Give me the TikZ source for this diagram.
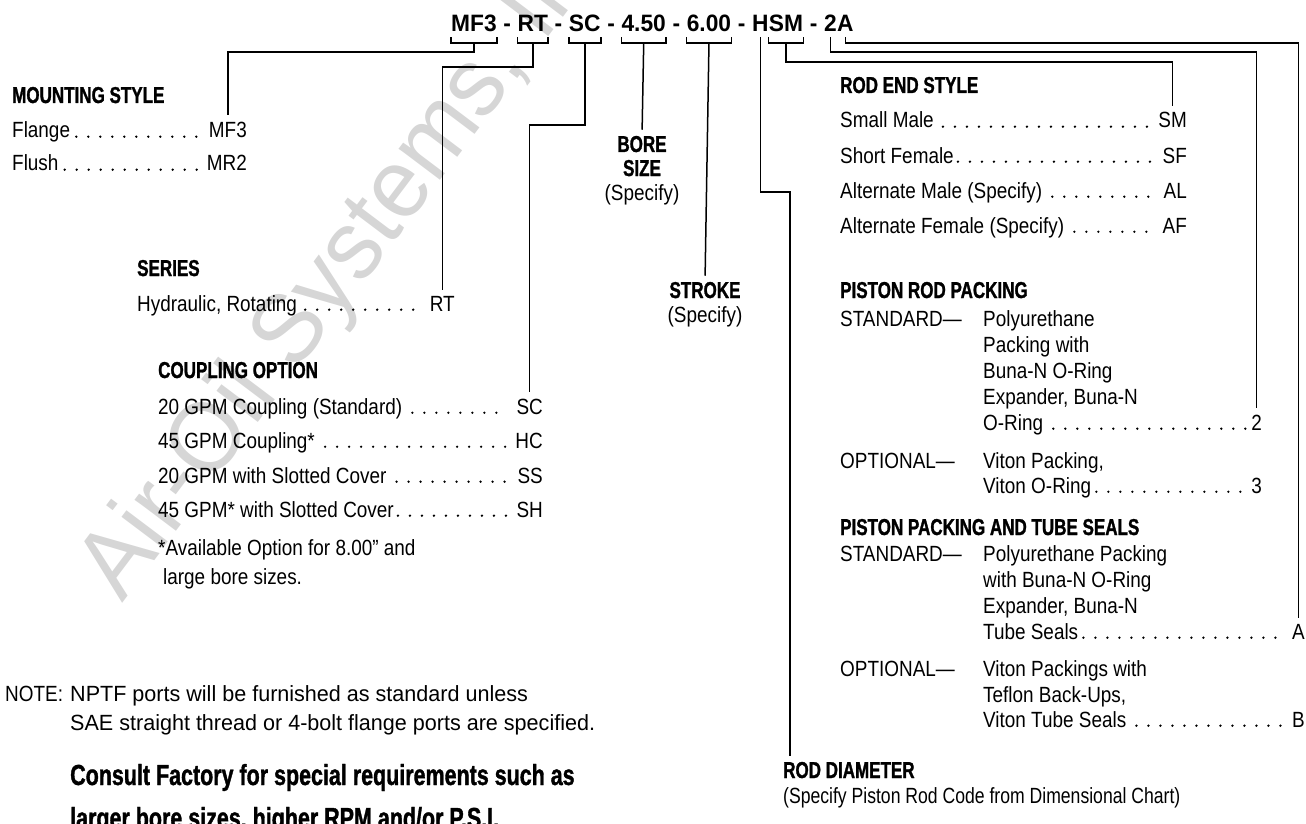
\documentclass[tikz,border=0pt]{standalone}
\usepackage{fontspec}
\setmainfont{Liberation Sans}[FakeStretch=0.86]
\newfontfamily\headfont{Liberation Sans}[FakeStretch=0.74,FakeBold=1.2]
\newfontfamily\codefont{Liberation Sans}[FakeStretch=0.96]
\newfontfamily\notefont{Liberation Sans}[FakeStretch=0.98]
\newfontfamily\narrowfont{Liberation Sans}[FakeStretch=0.8]
\usetikzlibrary{positioning}

\tikzset{
  txt/.style={inner sep=0pt,anchor=base west,font=\fontsize{22}{26}\selectfont},
  hd/.style={inner sep=0pt,anchor=base west,font=\headfont\bfseries\fontsize{23}{26}\selectfont},
  seg/.style={inner sep=0pt,font=\codefont\bfseries\fontsize{23.7}{26}\selectfont,text height=17pt,text depth=1pt},
  cd/.style={inner sep=0pt,anchor=base east,font=\fontsize{22}{26}\selectfont},
  wire/.style={line width=1.5pt},
  leader/.style={line width=2.6pt,line cap=round,dash pattern=on 0pt off 12pt},
}

\begin{document}
\begin{tikzpicture}[x=1pt,y=-1pt]
  \useasboundingbox (0,0) rectangle (1306,824);
  \clip (0,0) rectangle (1306,824);

  % watermark
  \node[rotate=53,anchor=base west,text=black!16,font=\codefont\fontsize{98}{98}\selectfont] (mark) at (120,606) {Air-Oil Systems, Inc.};

  % model code
  \node[seg,anchor=base west] (tmf) at (451,32) {MF3};
  \node[seg,right=6.3pt of tmf] (d1) {-};
  \node[seg,right=6.3pt of d1] (trt) {RT};
  \node[seg,right=6.3pt of trt] (d2) {-};
  \node[seg,right=6.3pt of d2] (tsc) {SC};
  \node[seg,right=6.3pt of tsc] (d3) {-};
  \node[seg,right=6.3pt of d3] (tbore) {4.50};
  \node[seg,right=6.3pt of tbore] (d4) {-};
  \node[seg,right=6.3pt of d4] (tstroke) {6.00};
  \node[seg,right=6.3pt of tstroke] (d5) {-};
  \node[seg,right=6.3pt of d5] (th) {H};
  \node[seg,right=0pt of th] (tsm) {SM};
  \node[seg,right=6.3pt of tsm] (d6) {-};
  \node[seg,right=6.3pt of d6] (ttwo) {2};
  \node[seg,right=0pt of ttwo] (ta) {A};

  % brackets
  \draw[wire] ([yshift=-4pt]tmf.south west) -- ++(0,6) -| ([yshift=-4pt]tmf.south east);
  \draw[wire] ([yshift=-4pt]trt.south west) -- ++(0,6) -| ([yshift=-4pt]trt.south east);
  \draw[wire] ([yshift=-4pt]tsc.south west) -- ++(0,6) -| ([yshift=-4pt]tsc.south east);
  \draw[wire] ([yshift=-4pt]tbore.south west) -- ++(0,6) -| ([yshift=-4pt]tbore.south east);
  \draw[wire] ([yshift=-4pt]tstroke.south west) -- ++(0,6) -| ([yshift=-4pt]tstroke.south east);
  \draw[wire] ([yshift=-4pt]tsm.south west) -- ++(0,6) -| ([yshift=-4pt]tsm.south east);

  % mounting style
  \node[hd] (mount) at (12,103) {MOUNTING STYLE};
  \node[txt] (flange) at (12,138) {Flange};
  \node[cd] (mf3) at (247,138) {MF3};
  \node[txt] (flush) at (12,171) {Flush};
  \node[cd] (mr2) at (247,171) {MR2};
  \draw[leader] ([xshift=6pt,yshift=1.3pt]flange.base east) -- ([xshift=-7pt,yshift=1.3pt]mf3.base west);
  \draw[leader] ([xshift=6pt,yshift=1.3pt]flush.base east) -- ([xshift=-7pt,yshift=1.3pt]mr2.base west);

  % series
  \node[hd] (series) at (137,276) {SERIES};
  \node[txt] (hydr) at (137,311) {Hydraulic, Rotating};
  \node[cd] (rt) at (455,311) {RT};
  \draw[leader] ([xshift=8pt,yshift=1.3pt]hydr.base east) -- ([xshift=-9pt,yshift=1.3pt]rt.base west);

  % coupling option
  \node[hd] (coupl) at (158,378) {COUPLING OPTION};
  \node[txt] (cp1) at (158,414) {20 GPM Coupling (Standard)};
  \node[cd] (sc) at (543,414) {SC};
  \node[txt] (cp2) at (158,448) {45 GPM Coupling*};
  \node[cd] (hc) at (543,448) {HC};
  \node[txt] (cp3) at (158,483) {20 GPM with Slotted Cover};
  \node[cd] (ss) at (543,483) {SS};
  \node[txt] (cp4) at (158,517) {45 GPM* with Slotted Cover};
  \node[cd] (sh) at (543,517) {SH};
  \draw[leader] ([xshift=10pt,yshift=1.3pt]cp1.base east) -- ([xshift=-9pt,yshift=1.3pt]sc.base west);
  \draw[leader] ([xshift=10pt,yshift=1.3pt]cp2.base east) -- ([xshift=-9pt,yshift=1.3pt]hc.base west);
  \draw[leader] ([xshift=10pt,yshift=1.3pt]cp3.base east) -- ([xshift=-9pt,yshift=1.3pt]ss.base west);
  \draw[leader] ([xshift=4pt,yshift=1.3pt]cp4.base east) -- ([xshift=-9pt,yshift=1.3pt]sh.base west);
  \node[txt] (avail) at (158,555) {*Available Option for 8.00” and};
  \node[txt] (avail2) at (163,584) {large bore sizes.};

  % note
  \node[txt] (note) at (5,701) {NOTE:};
  \node[txt,font=\notefont\fontsize{22}{26}\selectfont] (note1) at (70,701) {NPTF ports will be furnished as standard unless};
  \node[txt,font=\notefont\fontsize{22}{26}\selectfont] (note2) at (70,730) {SAE straight thread or 4-bolt flange ports are specified.};
  \node[hd,font=\headfont\bfseries\fontsize{29}{30}\selectfont] (consult) at (70,785) {Consult Factory for special requirements such as};
  \node[hd,font=\headfont\bfseries\fontsize{29}{30}\selectfont] (consult2) at (70,828) {larger bore sizes, higher RPM and/or P.S.I.};

  % bore size and stroke
  \node[hd,anchor=base] (bore) at (642,152) {BORE};
  \node[hd,anchor=base] (bsize) at (642,176) {SIZE};
  \node[txt,anchor=base] (bspec) at (642,200) {(Specify)};
  \node[hd,anchor=base] (stroke) at (705,298) {STROKE};
  \node[txt,anchor=base] (sspec) at (705,322) {(Specify)};

  % rod diameter
  \node[hd] (roddia) at (783,778) {ROD DIAMETER};
  \node[txt,font=\narrowfont\fontsize{22}{26}\selectfont] (rdspec) at (783,803) {(Specify Piston Rod Code from Dimensional Chart)};

  % rod end style
  \node[hd] (rodend) at (840,93) {ROD END STYLE};
  \node[txt] (re1) at (840,128) {Small Male};
  \node[cd] (sm) at (1187,128) {SM};
  \node[txt] (re2) at (840,163) {Short Female};
  \node[cd] (sf) at (1187,163) {SF};
  \node[txt] (re3) at (840,198) {Alternate Male (Specify)};
  \node[cd] (al) at (1187,198) {AL};
  \node[txt] (re4) at (840,233) {Alternate Female (Specify)};
  \node[cd] (af) at (1187,233) {AF};
  \draw[leader] ([xshift=9pt,yshift=1.3pt]re1.base east) -- ([xshift=-5pt,yshift=1.3pt]sm.base west);
  \draw[leader] ([xshift=4pt,yshift=1.3pt]re2.base east) -- ([xshift=-9pt,yshift=1.3pt]sf.base west);
  \draw[leader] ([xshift=10pt,yshift=1.3pt]re3.base east) -- ([xshift=-9pt,yshift=1.3pt]al.base west);
  \draw[leader] ([xshift=10pt,yshift=1.3pt]re4.base east) -- ([xshift=-9pt,yshift=1.3pt]af.base west);

  % piston rod packing
  \node[hd] (prp) at (840,298) {PISTON ROD PACKING};
  \node[txt] (prstd) at (840,326) {STANDARD—};
  \node[txt] (prs1) at (983,326) {Polyurethane};
  \node[txt] (prs2) at (983,352) {Packing with};
  \node[txt] (prs3) at (983,378) {Buna-N O-Ring};
  \node[txt] (prs4) at (983,404) {Expander, Buna-N};
  \node[txt] (prs5) at (983,430) {O-Ring};
  \node[cd] (pr2) at (1262,430) {2};
  \node[txt] (propt) at (840,468) {OPTIONAL—};
  \node[txt] (pro1) at (983,468) {Viton Packing,};
  \node[txt] (pro2) at (983,493) {Viton O-Ring};
  \node[cd] (pr3) at (1262,493) {3};
  \draw[leader] ([xshift=10pt,yshift=1.3pt]prs5.base east) -- ([xshift=-5pt,yshift=1.3pt]pr2.base west);
  \draw[leader] ([xshift=5pt,yshift=1.3pt]pro2.base east) -- ([xshift=-5pt,yshift=1.3pt]pr3.base west);

  % piston packing and tube seals
  \node[hd] (ppt) at (840,535) {PISTON PACKING AND TUBE SEALS};
  \node[txt] (ppstd) at (840,561) {STANDARD—};
  \node[txt] (pps1) at (983,561) {Polyurethane Packing};
  \node[txt] (pps2) at (983,587) {with Buna-N O-Ring};
  \node[txt] (pps3) at (983,613) {Expander, Buna-N};
  \node[txt] (pps4) at (983,639) {Tube Seals};
  \node[cd] (ppa) at (1305,639) {A};
  \node[txt] (ppopt) at (840,676) {OPTIONAL—};
  \node[txt] (ppo1) at (983,676) {Viton Packings with};
  \node[txt] (ppo2) at (983,702) {Teflon Back-Ups,};
  \node[txt] (ppo3) at (983,727) {Viton Tube Seals};
  \node[cd] (ppb) at (1305,727) {B};
  \draw[leader] ([xshift=5pt,yshift=1.3pt]pps4.base east) -- ([xshift=-9pt,yshift=1.3pt]ppa.base west);
  \draw[leader] ([xshift=10pt,yshift=1.3pt]ppo3.base east) -- ([xshift=-9pt,yshift=1.3pt]ppb.base west);

  % connectors
  \draw[wire,shorten >=7pt] ([yshift=-10pt]tmf.south) -- ++(0,9) -| (mf3.north);
  \draw[wire,shorten >=6pt] ([yshift=-10pt]trt.south) -- ++(0,24) -| (rt.north);
  \draw[wire,shorten >=6pt] ([yshift=-10pt]tsc.south) -- ++(0,82) -| (sc.north);
  \draw[wire,shorten >=6pt] ([yshift=-10pt]tbore.south) -- (bore.north);
  \draw[wire,shorten >=6pt] ([yshift=-10pt]tstroke.south) -- (stroke.north);
  \draw[wire,shorten >=6pt] ([yshift=-4pt]th.south) -- ++(0,155) -| ([xshift=7pt]roddia.north west);
  \draw[wire,shorten >=6pt] ([yshift=-10pt]tsm.south) -- ++(0,19) -| (sm.north);
  \draw[wire,shorten >=6pt] ([yshift=-4pt]ttwo.south) -- ++(0,15) -| (pr2.north);
  \draw[wire,shorten >=6pt] ([yshift=-4pt]ta.south) -- ++(0,6) -| (ppa.north);
\end{tikzpicture}
\end{document}
